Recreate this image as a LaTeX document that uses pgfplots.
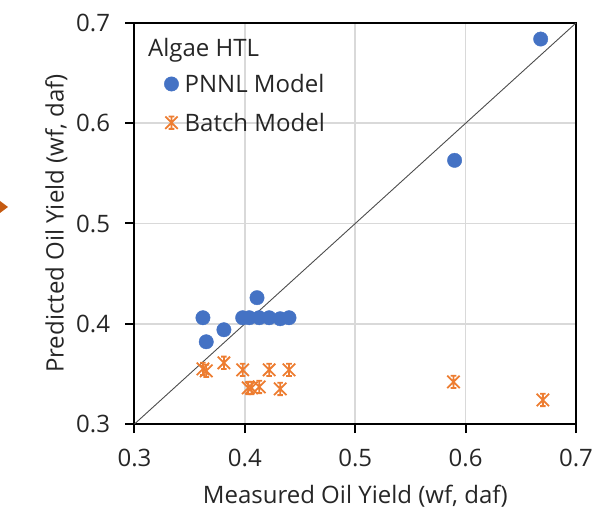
\documentclass[border=0pt]{standalone}
\usepackage{pgfplots}
\pgfplotsset{compat=1.18}
\usepackage{fontspec}
\setmainfont{Open Sans}
\definecolor{pnnl}{RGB}{68,114,196}
\definecolor{batch}{RGB}{237,125,49}
\definecolor{gridc}{RGB}{217,217,217}
\definecolor{arrowc}{RGB}{197,90,17}

% Excel-like star marker: X + vertical bar + short caps
\pgfdeclareplotmark{xlstar}{%
  \pgfpathmoveto{\pgfqpoint{-\pgfplotmarksize}{-\pgfplotmarksize}}%
  \pgfpathlineto{\pgfqpoint{\pgfplotmarksize}{\pgfplotmarksize}}%
  \pgfpathmoveto{\pgfqpoint{-\pgfplotmarksize}{\pgfplotmarksize}}%
  \pgfpathlineto{\pgfqpoint{\pgfplotmarksize}{-\pgfplotmarksize}}%
  \pgfpathmoveto{\pgfqpoint{0pt}{-\pgfplotmarksize}}%
  \pgfpathlineto{\pgfqpoint{0pt}{\pgfplotmarksize}}%
  \pgfpathmoveto{\pgfqpoint{-0.45\pgfplotmarksize}{\pgfplotmarksize}}%
  \pgfpathlineto{\pgfqpoint{0.45\pgfplotmarksize}{\pgfplotmarksize}}%
  \pgfpathmoveto{\pgfqpoint{-0.45\pgfplotmarksize}{-\pgfplotmarksize}}%
  \pgfpathlineto{\pgfqpoint{0.45\pgfplotmarksize}{-\pgfplotmarksize}}%
  \pgfusepathqstroke}

\newcommand{\bigfont}{\fontsize{24bp}{28bp}\selectfont}

\begin{document}
\begin{tikzpicture}
\begin{axis}[
  scale only axis,
  width=441.5bp, height=401bp,
  xmin=0.3, xmax=0.7, ymin=0.3, ymax=0.7,
  xtick={0.3,0.4,0.5,0.6,0.7},
  ytick={0.3,0.4,0.5,0.6,0.7},
  xtick pos=left, ytick pos=left,
  tick align=outside,
  major tick length=9bp,
  grid=major,
  grid style={draw=gridc, line width=1.5bp},
  axis line style={draw=black, line width=2bp},
  tick style={draw=black, line width=2bp},
  /pgf/number format/assume math mode=true,
  /pgf/number format/fixed,
  /pgf/number format/fixed zerofill,
  /pgf/number format/precision=1,
  ticklabel style={font=\bigfont, text=black!85},
  xticklabel style={yshift=-13bp},
  yticklabel style={xshift=-12bp},
  label style={font=\bigfont, text=black!85},
  xlabel={Measured Oil Yield (wf, daf)},
  ylabel={Predicted Oil Yield (wf, daf)},
  xlabel style={yshift=-11bp},
  ylabel style={yshift=2bp},
  legend style={
    at={(axis description cs:0.067,0.878)}, anchor=north west,
    draw=none, fill=none, font=\bigfont, text=black!85,
    row sep=15bp, inner sep=0bp,
  },
  legend cell align=left,
  legend image code/.code={\draw[#1] plot coordinates {(0bp,0bp)};},
  clip=false,
]
\addplot[forget plot, color=black!70, line width=0.9bp] coordinates {(0.3,0.3) (0.7,0.7)};

\addplot[only marks, mark=*, mark size=7.2bp, color=pnnl, mark options={draw=pnnl, fill=pnnl}]
coordinates {
(0.362,0.406) (0.365,0.382) (0.381,0.394) (0.398,0.406) (0.404,0.406)
(0.411,0.426) (0.413,0.406) (0.422,0.406) (0.432,0.405) (0.440,0.406)
(0.590,0.563) (0.668,0.684)
};
\addlegendentry{\hspace{4bp}PNNL Model}

\addplot[only marks, mark=xlstar, mark size=6.2bp, color=batch, line width=1.8bp]
coordinates {
(0.362,0.355) (0.365,0.353) (0.381,0.361) (0.398,0.354) (0.403,0.336)
(0.406,0.336) (0.413,0.337) (0.422,0.354) (0.432,0.335) (0.440,0.354)
(0.589,0.342) (0.670,0.324)
};
\addlegendentry{\hspace{4bp}Batch Model}

\node[anchor=base west, font=\bigfont, text=black!85, inner sep=0pt]
  at (axis description cs:0.0306,0.9177) {Algae HTL};
\end{axis}
\fill[arrowc] (-134.5bp,223bp) -- (-126.5bp,217bp) -- (-134.5bp,211bp) -- cycle;
\pgfresetboundingbox
\useasboundingbox (-134.5bp,-89bp) rectangle (480.5bp,424bp);
\end{tikzpicture}
\end{document}
